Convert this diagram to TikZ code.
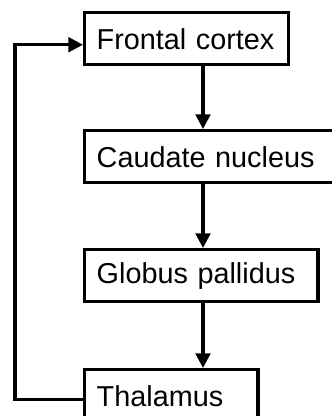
\documentclass[tikz,border=0pt]{standalone}
\usepackage{fontspec}
\setmainfont{Liberation Sans}
\usetikzlibrary{positioning,arrows.meta}

\begin{document}
\begin{tikzpicture}
[x=0.75pt, y=-0.75pt,
areanode/.style={rectangle, draw=black, line width=2.6pt, anchor=north west, align=left, inner xsep=9pt, minimum height=39pt, font=\fontsize{21.6pt}{25pt}\selectfont},
flowline/.style={line width=2.3pt, -{Triangle[length=11pt, width=11pt]}},
]
\useasboundingbox (0,0) rectangle (331,416);
\node[areanode, text width=135pt]	(frontal) at (83,11) {Frontal cortex};
\node[areanode, text width=170pt]	(caudate) at (83,129) {Caudate nucleus};
\node[areanode, text width=157pt]	(globus) at (83,248) {Globus pallidus};
\node[areanode, text width=112pt]	(thalamus) at (83,368) {Thalamus};

\coordinate (spine) at (203,0);
\coordinate (rail) at (15,0);
\coordinate (loopin) at ([yshift=-4.5pt]frontal.west);
\coordinate (loopout) at ([yshift=-3pt]thalamus.west);

\draw[flowline] (frontal.south -| spine) -- (caudate.north -| spine);
\draw[flowline] (caudate.south -| spine) -- (globus.north -| spine);
\draw[flowline] (globus.south -| spine) -- (thalamus.north -| spine);
\draw[flowline] (loopout) -- (loopout -| rail) -- (loopin -| rail) -- (loopin);
\end{tikzpicture}
\end{document}
